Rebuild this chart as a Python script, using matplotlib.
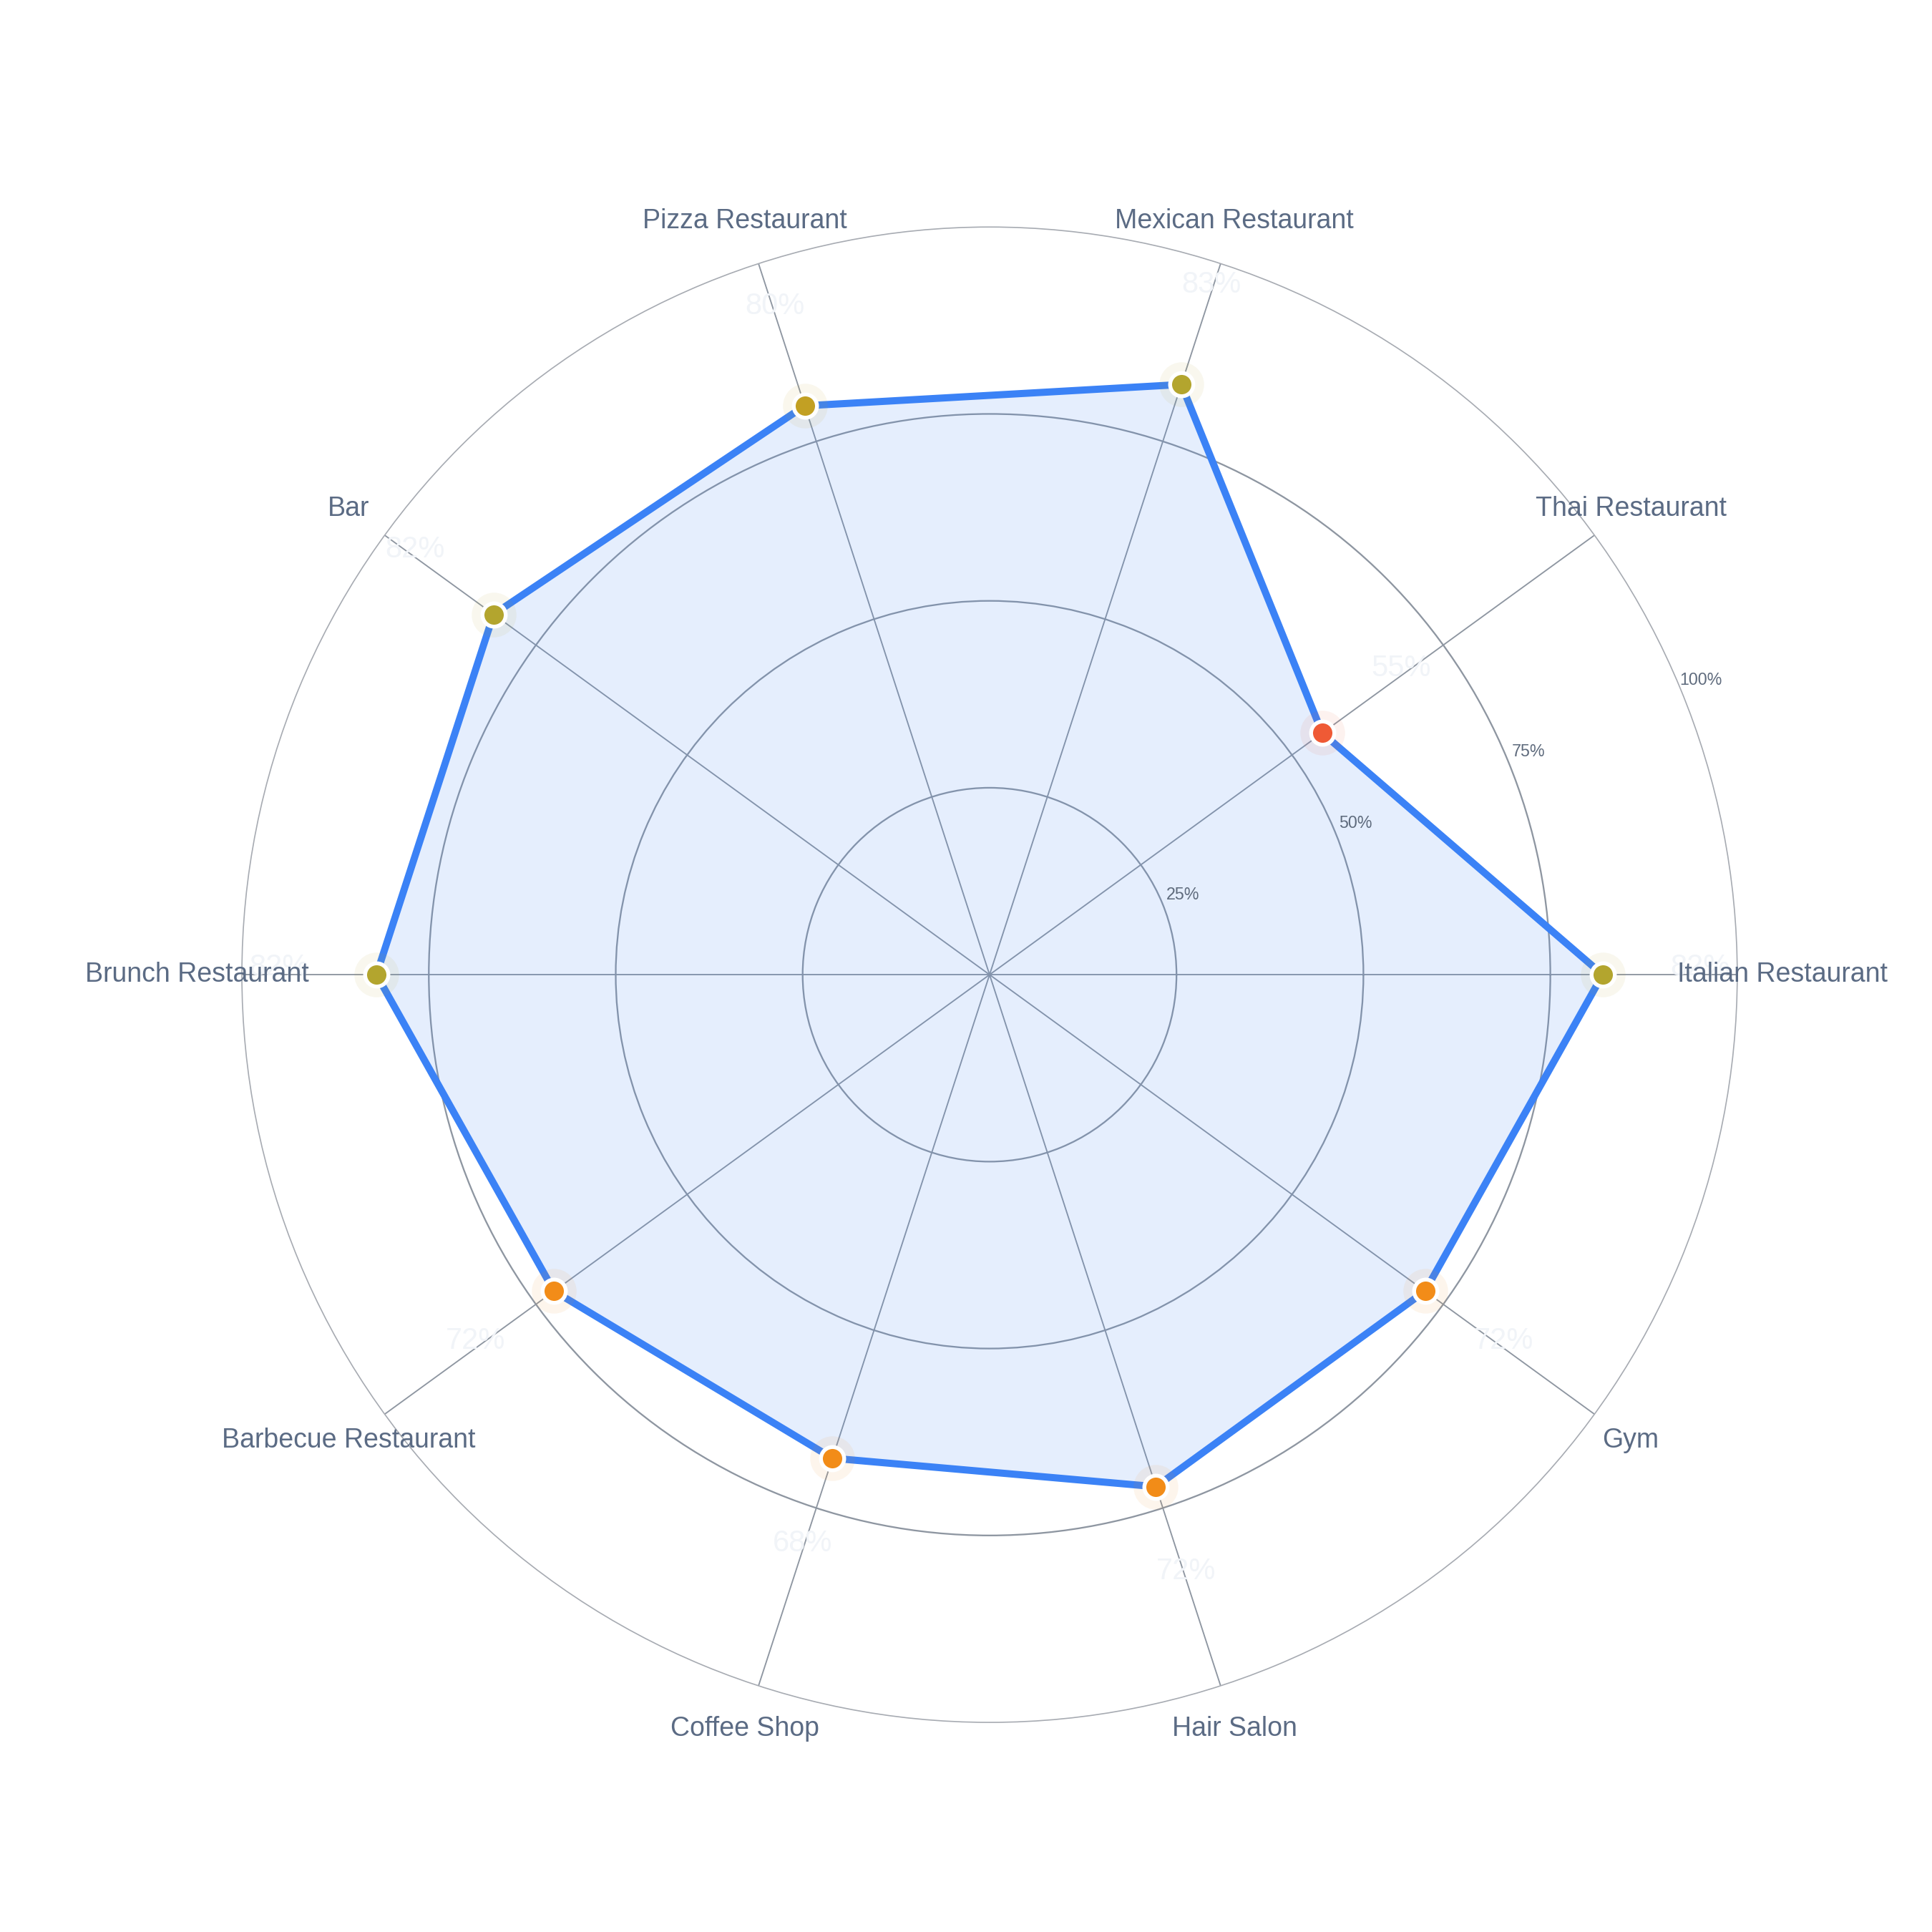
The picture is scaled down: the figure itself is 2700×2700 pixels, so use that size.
import numpy as np
import matplotlib
matplotlib.use("Agg")
import matplotlib.pyplot as plt

# data
categories = ["Italian Restaurant", "Thai Restaurant", "Mexican Restaurant",
              "Pizza Restaurant", "Bar", "Brunch Restaurant",
              "Barbecue Restaurant", "Coffee Shop", "Hair Salon", "Gym"]
values = [82, 55, 83, 80, 82, 82, 72, 68, 72, 72]
point_colors = ["#b3a52e", "#ef5a35", "#b3a52e", "#c2a023", "#b3a52e",
                "#b3a52e", "#f28c18", "#f28c18", "#f28c18", "#f28c18"]
rticks = [25, 50, 75, 100]
rtick_labels = ["25%", "50%", "75%", "100%"]

plt.rcParams['font.family'] = ['Liberation Sans', 'DejaVu Sans']

n = len(categories)
theta = np.arange(n) * 2 * np.pi / n

fig = plt.figure(figsize=(9, 9), dpi=300)
ax = fig.add_axes([0.1252, 0.1085, 0.774, 0.774], projection='polar')
ax.set_ylim(0, 100)
ax.set_theta_zero_location('E')
ax.set_theta_direction(1)

# grid
ax.set_yticks([25, 50, 75])
ax.set_yticklabels([])
ax.set_xticks(theta)
ax.set_xticklabels([])
ax.yaxis.grid(True, color='#8e96a1', linewidth=0.55)
ax.xaxis.grid(True, color='#8e96a1', linewidth=0.45)
ax.spines['polar'].set_color('#a7abb2')
ax.spines['polar'].set_linewidth(0.4)
ax.tick_params(length=0)

# filled polygon
th = np.append(theta, theta[0])
vv = np.append(values, values[0])
ax.fill(th, vv, color='#3b82f6', alpha=0.13, zorder=2, linewidth=0)
ax.plot(th, vv, color='#3b82f6', linewidth=2.4, zorder=3, solid_joinstyle='miter')

# markers with soft halo
for t, v, c in zip(theta, values, point_colors):
    ax.plot(t, v, 'o', ms=15, color=c, alpha=0.08, markeredgewidth=0, zorder=4)
    ax.plot(t, v, 'o', ms=7.8, color=c, markeredgecolor='white',
            markeredgewidth=1.3, zorder=5)

# faint value labels
for t, v in zip(theta, values):
    ax.annotate(f"{v}%", xy=(t, v + 13), xytext=(0, 2.5),
                textcoords='offset points', ha='center', va='center',
                fontsize=10, color='#f1f4f8', zorder=6)

# category labels
for t, name in zip(theta, categories):
    ax.text(t, 106, name, ha='center', va='center', fontsize=9.0,
            color='#5b6b84', zorder=6)

# radial tick labels
for r, lab in zip(rticks, rtick_labels):
    ax.text(np.deg2rad(22.5), r + 3, lab, ha='center', va='center',
            fontsize=5.6, color='#5f6b7d', zorder=6)

fig.savefig("out.png", dpi=300, facecolor='white')
